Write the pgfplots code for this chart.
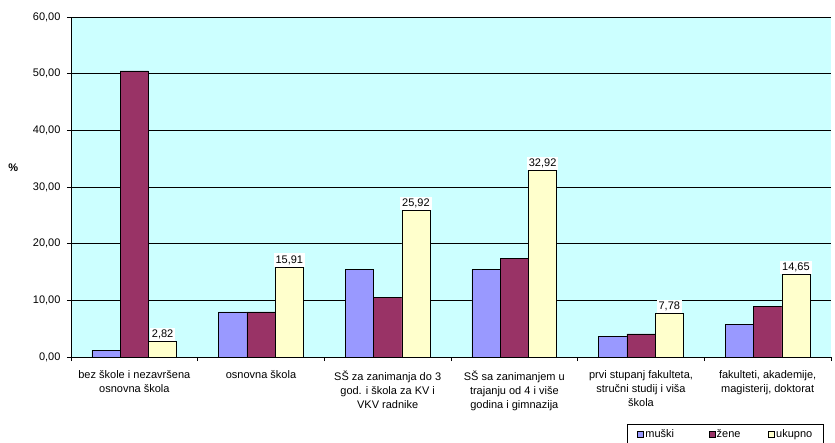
\documentclass[border=0pt]{standalone}
\usepackage{pgfplots}
\pgfplotsset{compat=1.18}
\usepackage{fontspec}
\setmainfont{Liberation Sans}
\definecolor{bgc}{HTML}{CCFFFF}
\definecolor{cm}{HTML}{9999FF}
\definecolor{cz}{HTML}{993366}
\definecolor{cu}{HTML}{FFFFCC}
\newcommand{\fs}{\fontsize{11}{14}\selectfont}
\begin{document}
\begin{tikzpicture}
\begin{axis}[name=ax, scale only axis, width=760pt, height=340pt,
 xmin=-0.5, xmax=5.5, ymin=0, ymax=60,
 /pgf/number format/assume math mode=true,
 axis background/.style={fill=bgc},
 axis lines*=left, axis line style={black, line width=0.8pt},
 ybar=0pt, bar width=28.3pt,
 ytick={0,10,...,60}, ymajorgrids, grid style={black, line width=0.6pt},
 yticklabel={\pgfmathprintnumber[fixed,fixed zerofill,precision=2,use comma]{\tick}},
 tick align=outside, major tick length=4pt, tick style={black, line width=0.6pt},
 xtick={-0.5,0.5,1.5,2.5,3.5,4.5,5.5}, xticklabels={},
 extra x ticks={0,1,2,3,4,5},
 extra x tick labels={{bez škole i nezavršena\\osnovna škola},{osnovna škola},{SŠ za zanimanja do 3\\god. i škola za KV i\\VKV radnike},{SŠ sa zanimanjem u\\trajanju od 4 i više\\godina i gimnazija},{prvi stupanj fakulteta,\\stručni studij i viša\\škola},{fakulteti, akademije,\\magisterij, doktorat}},
 extra x tick style={major tick length=0pt, grid=none, xticklabel style={yshift=-10pt}},
 xticklabel style={align=center, font=\fs},
 yticklabel style={font=\fs, xshift=-3pt},
 every axis plot/.append style={draw=black, line width=0.6pt,
   legend image code/.code={\draw[##1,draw=black,line width=0.6pt] (0pt,-3pt) rectangle (6pt,3pt);}},
 legend style={at={(axis description cs:0.7316,-0.197)}, anchor=north west, legend columns=3, draw=black, line width=0.6pt, font=\fs,
   inner xsep=10pt, inner ysep=3pt, nodes={inner xsep=1.5pt},
   /tikz/column 2/.style={column sep=33pt}, /tikz/column 4/.style={column sep=26pt}},
 clip=false,
]
\addplot[fill=cm] coordinates {(0,1.2) (1,7.95) (2,15.4) (3,15.4) (4,3.64) (5,5.7)};
\addplot[fill=cz] coordinates {(0,50.5) (1,7.95) (2,10.46) (3,17.47) (4,4.06) (5,8.88)};
\addplot[fill=cu, nodes near coords, nodes near coords style={fill=white, inner sep=2pt, font=\fs, /pgf/number format/.cd, fixed, fixed zerofill, precision=2, use comma}] coordinates {(0,2.82) (1,15.91) (2,25.92) (3,32.92) (4,7.78) (5,14.65)};
\legend{muški, žene, ukupno}
\node[font=\fs\bfseries] at (axis description cs:-0.076,0.556) {\%};
\end{axis}
\pgfresetboundingbox
\path ([shift={(-71pt,-85pt)}]ax.south west) rectangle ([shift={(4pt,17pt)}]ax.north east);
\end{tikzpicture}
\end{document}
